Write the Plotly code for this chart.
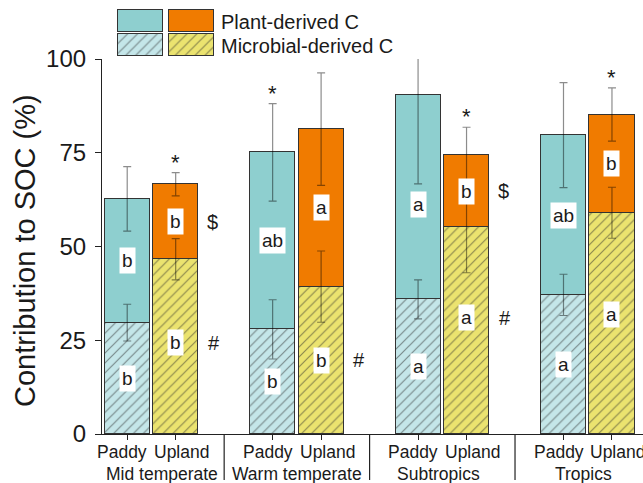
import plotly.graph_objects as go

# ---- data -------------------------------------------------------------
regions = ["Mid temperate", "Warm temperate", "Subtropics", "Tropics"]
land_uses = ["Paddy", "Upland"]

# microbial-derived C (% of SOC) and its error
microbial_paddy = [29.7, 27.9, 35.9, 37.1]
microbial_paddy_err = [4.9, 7.9, 5.2, 5.5]
microbial_upland = [46.6, 39.3, 55.1, 59.0]
microbial_upland_err = [5.5, 9.5, 12.1, 6.8]

# plant-derived C (% of SOC), stacked on top of microbial C
plant_paddy = [33.0, 47.2, 54.5, 42.6]
plant_upland = [20.0, 42.0, 19.3, 26.2]
# error of the total (plant + microbial)
total_paddy_err = [8.6, 13.0, 23.7, 14.0]
total_upland_err = [3.1, 15.0, 7.4, 7.1]

# significance letters
paddy_plant_letters = ["b", "ab", "a", "ab"]
paddy_microbial_letters = ["b", "b", "a", "a"]
upland_plant_letters = ["b", "a", "b", "b"]
upland_microbial_letters = ["b", "b", "a", "a"]

# paddy vs upland markers
paddy_star = [False, True, False, False]
upland_star = [True, False, True, True]
upland_dollar = [True, False, True, True]
upland_hash = [True, True, True, True]

y_ticks = [0, 25, 50, 75, 100]

# ---- styling ----------------------------------------------------------
FONT = "Liberation Sans, Arial, sans-serif"
TEXT = "#1a1a1a"
TEAL = "#8ecfcf"
ORANGE = "#f07b00"
LIGHT_CYAN = "#c4e6e9"
YELLOW = "#ebe36f"
OUTLINE = "#333333"
ERR = "rgba(0,0,0,0.45)"
BAR_W = 0.93

paddy_x = [3 * g for g in range(len(regions))]
upland_x = [3 * g + 1 for g in range(len(regions))]

total_paddy = [m + p for m, p in zip(microbial_paddy, plant_paddy)]
total_upland = [m + p for m, p in zip(microbial_upland, plant_upland)]


def hatch(bg):
    return dict(shape="/", fgcolor="#2a2a2a", bgcolor=bg, size=7, solidity=0.17)


fig = go.Figure()

fig.add_trace(go.Bar(x=paddy_x, y=microbial_paddy, width=BAR_W,
                     marker=dict(color=LIGHT_CYAN, pattern=hatch(LIGHT_CYAN),
                                 line=dict(color=OUTLINE, width=1)),
                     showlegend=False))
fig.add_trace(go.Bar(x=upland_x, y=microbial_upland, width=BAR_W,
                     marker=dict(color=YELLOW, pattern=hatch(YELLOW),
                                 line=dict(color=OUTLINE, width=1)),
                     showlegend=False))
fig.add_trace(go.Bar(x=paddy_x, y=plant_paddy, width=BAR_W,
                     marker=dict(color=TEAL, line=dict(color=OUTLINE, width=1)),
                     showlegend=False))
fig.add_trace(go.Bar(x=upland_x, y=plant_upland, width=BAR_W,
                     marker=dict(color=ORANGE, line=dict(color=OUTLINE, width=1)),
                     showlegend=False))

# error bars drawn above all bar segments
for xs, ys, errs in [(paddy_x, microbial_paddy, microbial_paddy_err),
                     (upland_x, microbial_upland, microbial_upland_err),
                     (paddy_x, total_paddy, total_paddy_err),
                     (upland_x, total_upland, total_upland_err)]:
    fig.add_trace(go.Scatter(
        x=xs, y=ys, mode="markers", marker=dict(size=1, opacity=0),
        error_y=dict(type="data", array=errs, visible=True, color=ERR,
                     thickness=1.2, width=4),
        showlegend=False, hoverinfo="skip"))

# ---- custom legend (swatches on their own small axes) -----------------
legend_items = [
    (140.5, 26.3, TEAL, None), (191.5, 26.3, ORANGE, None),
    (140.5, 2.0, LIGHT_CYAN, LIGHT_CYAN), (191.5, 2.0, YELLOW, YELLOW),
]
for cx, base, col, pat in legend_items:
    mk = dict(color=col, line=dict(color=OUTLINE, width=1))
    if pat:
        mk["pattern"] = hatch(pat)
    fig.add_trace(go.Bar(x=[cx], y=[21.8], base=[base], width=45, marker=mk,
                         xaxis="x2", yaxis="y2", showlegend=False,
                         hoverinfo="skip"))

annotations = []


def label(x, y, text):
    annotations.append(dict(
        x=x, y=y, xref="x", yref="y", text=text, showarrow=False,
        font=dict(family=FONT, size=19, color=TEXT), bgcolor="white",
        borderpad=2, xanchor="center", yanchor="middle"))


label_nudge_paddy_plant = [0, 0, -2, 0]
label_nudge_upland_microbial = [1, 0, 3.5, 2.5]

for g in range(len(regions)):
    label(paddy_x[g], microbial_paddy[g] + plant_paddy[g] / 2 + label_nudge_paddy_plant[g],
          paddy_plant_letters[g])
    label(paddy_x[g], microbial_paddy[g] / 2, paddy_microbial_letters[g])
    up_plant_y = microbial_upland[g] + plant_upland[g] / 2
    up_micro_y = microbial_upland[g] / 2 + label_nudge_upland_microbial[g]
    label(upland_x[g], up_plant_y, upland_plant_letters[g])
    label(upland_x[g], up_micro_y, upland_microbial_letters[g])

    for xs, tot, err, flag in [(paddy_x, total_paddy, total_paddy_err, paddy_star),
                               (upland_x, total_upland, total_upland_err, upland_star)]:
        if flag[g]:
            annotations.append(dict(
                x=xs[g], y=tot[g] + err[g], xref="x", yref="y", text="*",
                showarrow=False, yanchor="bottom", yshift=-4,
                font=dict(family=FONT, size=22, color=TEXT)))
    if upland_dollar[g]:
        annotations.append(dict(
            x=upland_x[g], y=up_plant_y, xref="x", yref="y", text="$",
            showarrow=False, xshift=37, font=dict(family=FONT, size=20, color=TEXT)))
    if upland_hash[g]:
        annotations.append(dict(
            x=upland_x[g], y=up_micro_y, xref="x", yref="y", text="#",
            showarrow=False, xshift=38, font=dict(family=FONT, size=20, color=TEXT)))

    # category labels under the axis
    for xs, name, shift in [(paddy_x, land_uses[0], -5), (upland_x, land_uses[1], 6)]:
        annotations.append(dict(
            x=xs[g], y=0, xref="x", yref="paper", text=name, showarrow=False,
            yanchor="top", yshift=-6, xshift=shift,
            font=dict(family=FONT, size=17.5, color=TEXT)))

group_centers = [0.72, 3.5, 6.42, 9.42]
for g, name in enumerate(regions):
    annotations.append(dict(
        x=group_centers[g], y=0, xref="x", yref="paper", text=name,
        showarrow=False, yanchor="top", yshift=-28,
        font=dict(family=FONT, size=17.5, color=TEXT)))

# legend texts
annotations.append(dict(x=(219 - 102) / 541, y=(434 - 21.5) / 434, xref="paper",
                        yref="paper", text="Plant-derived C", showarrow=False,
                        xanchor="left", yanchor="middle",
                        font=dict(family=FONT, size=20, color=TEXT)))
annotations.append(dict(x=(219 - 102) / 541, y=(434 - 45.5) / 434, xref="paper",
                        yref="paper", text="Microbial-derived C", showarrow=False,
                        xanchor="left", yanchor="middle",
                        font=dict(family=FONT, size=20, color=TEXT)))

# y-axis title
annotations.append(dict(x=(25 - 102) / 541, y=(434 - 251) / 434, xref="paper",
                        yref="paper", text="Contribution to SOC (%)",
                        showarrow=False, textangle=-90, xanchor="center",
                        yanchor="middle",
                        font=dict(family=FONT, size=29, color=TEXT)))

# group separators below the axis
shapes = [dict(type="line", xref="x", yref="paper", x0=s, x1=s, y0=0,
               y1=-(480 - 434) / 434, line=dict(color="#222", width=1.2))
          for s in [2, 5, 8]]

fig.update_layout(
    width=643, height=483,
    margin=dict(l=102, r=0, t=0, b=49, pad=0, autoexpand=False),
    paper_bgcolor="white", plot_bgcolor="white",
    barmode="stack", bargap=0,
    showlegend=False,
    annotations=annotations, shapes=shapes,
    xaxis=dict(range=[-0.52, 10.64], tickvals=paddy_x + upland_x,
               ticktext=[""] * 8, ticks="outside", ticklen=5,
               tickcolor="#222", showline=True, linecolor="#222",
               linewidth=1.2, showgrid=False, zeroline=False,
               automargin=False),
    yaxis=dict(domain=[0, 375 / 434], range=[0, 100], tickvals=y_ticks,
               ticks="outside", ticklen=6, tickcolor="#222", showline=True,
               linecolor="#222", linewidth=1.2, showgrid=False,
               zeroline=False, ticklabelstandoff=4, automargin=False,
               tickfont=dict(family=FONT, size=24, color=TEXT)),
    xaxis2=dict(domain=[0, 1], range=[102, 643], anchor="y2", visible=False),
    yaxis2=dict(domain=[376 / 434, 1], range=[0, 58], anchor="x2",
                visible=False),
)

fig.write_html("out.html")
